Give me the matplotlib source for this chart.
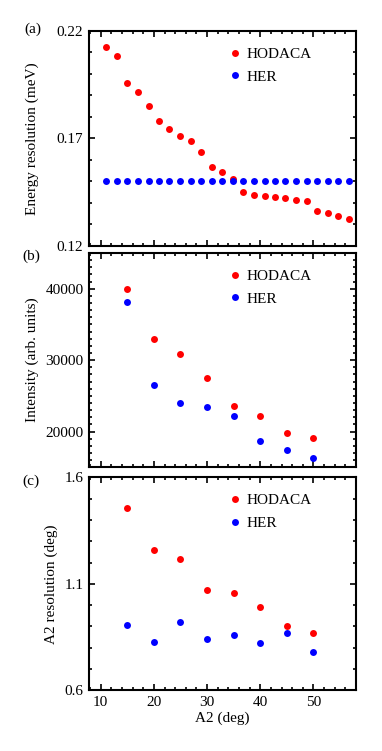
import matplotlib
matplotlib.use("Agg")
from matplotlib import pyplot as plt
from matplotlib.ticker import FixedLocator, MultipleLocator, NullFormatter

# panel (a): energy resolution
a2_fine = [11.0, 13.0, 14.9, 17.0, 19.0, 21.0, 22.9, 24.9, 26.9, 28.9, 30.9, 32.8,
           34.8, 36.8, 38.8, 40.8, 42.8, 44.7, 46.7, 48.8, 50.7, 52.7, 54.6, 56.6]
eres_hodaca = [0.2127, 0.2084, 0.1956, 0.1916, 0.1852, 0.1779, 0.1743, 0.1709,
               0.1688, 0.1635, 0.1566, 0.1543, 0.1511, 0.1448, 0.1436, 0.1433,
               0.1425, 0.1420, 0.1413, 0.1408, 0.1360, 0.1352, 0.1338, 0.1326]
eres_her = [0.150] * 24

# panels (b) and (c)
a2_coarse = [15, 20, 25, 30, 35, 40, 45, 50]
int_hodaca = [40000, 32960, 30820, 27510, 23540, 22140, 19860, 19070]
int_her = [38090, 26530, 24060, 23400, 22140, 18650, 17480, 16360]
a2res_hodaca = [1.457, 1.258, 1.218, 1.069, 1.058, 0.990, 0.900, 0.870]
a2res_her = [0.909, 0.828, 0.920, 0.839, 0.859, 0.820, 0.870, 0.780]

# tick positions
eres_ticks = [0.12, 0.17, 0.22]
a2res_ticks = [0.6, 1.1, 1.6]

plt.rcParams["font.family"] = ["Liberation Serif", "DejaVu Serif"]
plt.rcParams["font.size"] = 11

fig = plt.figure(figsize=(3.82, 7.51), dpi=100)

left, width = 0.233, 0.699
ax_a = fig.add_axes([left, 0.6728, width, 0.2859])
ax_b = fig.add_axes([left, 0.3778, width, 0.2853])
ax_c = fig.add_axes([left, 0.0808, width, 0.2836])

red = "#ff0000"
blue = "#0000ff"
ms = 5

ax_a.plot(a2_fine, eres_hodaca, "o", color=red, ms=ms, mec="none", label="HODACA")
ax_a.plot(a2_fine, eres_her, "o", color=blue, ms=ms, mec="none", label="HER")
ax_b.plot(a2_coarse, int_hodaca, "o", color=red, ms=ms, mec="none", label="HODACA")
ax_b.plot(a2_coarse, int_her, "o", color=blue, ms=ms, mec="none", label="HER")
ax_c.plot(a2_coarse, a2res_hodaca, "o", color=red, ms=ms, mec="none", label="HODACA")
ax_c.plot(a2_coarse, a2res_her, "o", color=blue, ms=ms, mec="none", label="HER")

ax_a.set_ylim(0.12, 0.22)
ax_a.yaxis.set_major_locator(FixedLocator(eres_ticks))
ax_a.yaxis.set_minor_locator(MultipleLocator(0.01))

ax_b.set_ylim(15000, 45000)
ax_b.yaxis.set_major_locator(MultipleLocator(10000))
ax_b.yaxis.set_minor_locator(MultipleLocator(1000))

ax_c.set_ylim(0.6, 1.6)
ax_c.yaxis.set_major_locator(FixedLocator(a2res_ticks))
ax_c.yaxis.set_minor_locator(MultipleLocator(0.1))

for ax in (ax_a, ax_b, ax_c):
    ax.set_xlim(7.8, 58.0)
    ax.xaxis.set_major_locator(MultipleLocator(10))
    ax.xaxis.set_minor_locator(MultipleLocator(2))
    ax.tick_params(which="both", direction="in", top=True, right=True,
                   width=1.2, labelsize=11, pad=4)
    ax.tick_params(which="major", length=4)
    ax.tick_params(which="minor", length=2)
    for sp in ax.spines.values():
        sp.set_linewidth(1.5)
    ax.legend(loc="upper left", bbox_to_anchor=(0.50, 0.952), frameon=False,
              handlelength=0.8, handletextpad=0.4, labelspacing=0.58,
              borderaxespad=0.0, fontsize=11)

ax_a.xaxis.set_major_formatter(NullFormatter())
ax_b.xaxis.set_major_formatter(NullFormatter())
ax_a.yaxis.set_major_formatter(plt.FuncFormatter(lambda v, p: "%.2f" % v))
ax_c.yaxis.set_major_formatter(plt.FuncFormatter(lambda v, p: "%.1f" % v))

ax_a.set_ylabel("Energy resolution (meV)")
ax_b.set_ylabel("Intensity (arb. units)")
ax_c.set_ylabel("A2 resolution (deg)")
ax_c.set_xlabel("A2 (deg)", labelpad=2)
ax_a.yaxis.set_label_coords(-0.186, 0.5)
ax_b.yaxis.set_label_coords(-0.186, 0.5)
ax_c.yaxis.set_label_coords(-0.115, 0.5)

# panel tags
fig.text(33 / 382, 1 - 29 / 751, "(a)", ha="center", va="center", fontsize=11)
fig.text(31 / 382, 1 - 256 / 751, "(b)", ha="center", va="center", fontsize=11)
fig.text(31 / 382, 1 - 481 / 751, "(c)", ha="center", va="center", fontsize=11)

fig.savefig("out.png", dpi=100)
